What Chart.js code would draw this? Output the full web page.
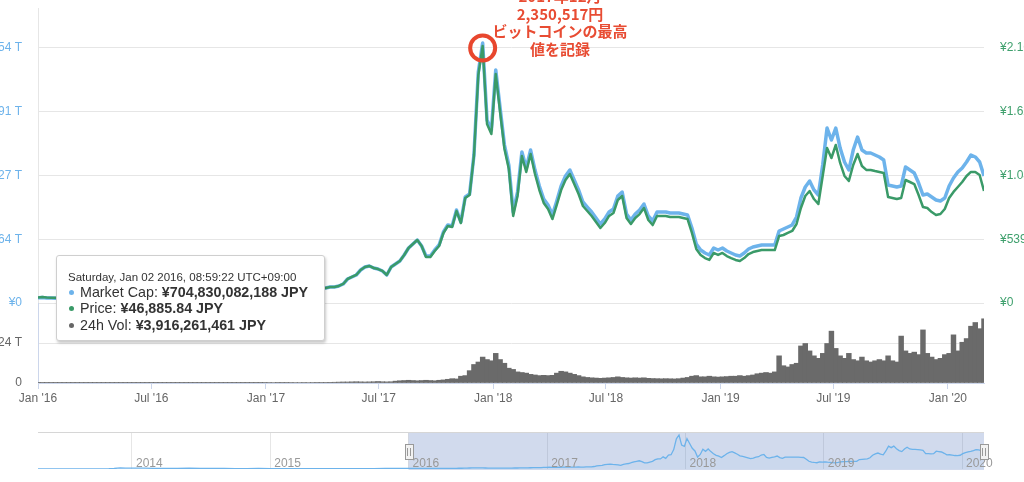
<!DOCTYPE html>
<html>
<head>
<meta charset="utf-8">
<script src="https://cdn.jsdelivr.net/npm/chart.js@4.4.1/dist/chart.umd.min.js"></script>
<style>
  html, body { margin: 0; padding: 0; background: #fff; overflow: hidden; }
  #wrap { position: relative; width: 1024px; height: 482px; overflow: hidden; font-family: "Liberation Sans", Arial, sans-serif; }
  canvas { position: absolute; left: 0; }
  #mainChart { top: 0; }
  #volChart { top: 293px; }
  #navChart { top: 422px; }
  #note { position: absolute; left: 460px; top: -13px; width: 200px; text-align: center;
          font-family: "Noto Sans CJK JP", sans-serif; font-weight: bold; font-size: 15px; line-height: 17.5px; color: #e84c33; }
  #tip { position: absolute; left: 56px; top: 255px; width: 267px; height: 84px; background: #fff;
         border: 1px solid #cfcfcf; border-radius: 3px; box-shadow: 1px 2px 3px rgba(0,0,0,0.22); color: #333; }
  .tt-title { position: absolute; left: 11px; top: 14px; font-size: 11.5px; line-height: 14px; white-space: nowrap; }
  .tt-rows { position: absolute; left: 12px; top: 28px; font-size: 14.3px; line-height: 16.4px; white-space: nowrap; }
  .dot { display: inline-block; width: 5px; height: 5px; border-radius: 50%; margin-right: 6px; position: relative; top: -2px; }
</style>
</head>
<body>
<div id="wrap">
  <canvas id="mainChart" width="1024" height="312"></canvas>
  <canvas id="volChart" width="1024" height="120"></canvas>
  <canvas id="navChart" width="1024" height="60"></canvas>
  <div id="note">2017年12月<br>2,350,517円<br>ビットコインの最高<br>値を記録</div>
  <div id="tip">
    <div class="tt-title">Saturday, Jan 02 2016, 08:59:22 UTC+09:00</div>
    <div class="tt-rows">
      <div><span class="dot" style="background:#6db3eb"></span>Market Cap: <b>¥704,830,082,188 JPY</b></div>
      <div><span class="dot" style="background:#3a9a68"></span>Price: <b>¥46,885.84 JPY</b></div>
      <div><span class="dot" style="background:#666"></span>24h Vol: <b>¥3,916,261,461 JPY</b></div>
    </div>
  </div>
</div>
<script>
// weekly samples starting 1 Jan 2016 (day 0)
const stepDays = 7;

// market cap, trillion JPY
const capT = [
  0.71, 0.75, 0.69, 0.68, 0.66, 0.63, 0.68, 0.71, 0.71, 0.69, 0.69, 0.69, 0.72, 0.72, 0.72, 0.74, 0.75, 0.75, 0.75, 0.76,
  0.77, 0.89, 0.94, 1.06, 1.13, 1.18, 1.10, 1.10, 1.09, 1.06, 0.95, 0.95, 0.94, 0.95, 0.94, 0.97, 0.99, 0.99, 0.97, 0.99,
  1.02, 1.05, 1.12, 1.17, 1.20, 1.22, 1.28, 1.33, 1.38, 1.41, 1.45, 1.61, 1.77,
  1.86, 1.65, 1.72, 1.77, 1.81, 1.88, 1.98, 2.07, 1.91, 1.94, 2.01, 2.07, 2.04,
  2.03, 2.17, 2.17, 2.30, 2.57, 3.25, 3.52, 3.79, 4.47, 4.88,
  5.01, 4.74, 4.61, 4.33, 3.79, 4.88, 5.28, 5.69, 6.50, 7.45,
  7.99, 8.53, 7.72, 6.37, 6.37, 7.18, 7.86, 9.62, 10.57, 10.43,
  12.60, 10.97, 14.36, 14.76, 20.05, 31.29, 35.22, 24.79, 23.43, 31.56,
  26.41, 21.40, 18.69, 12.33, 15.03, 20.45, 18.29, 20.72, 18.01, 15.85,
  14.09, 13.27, 11.92, 13.82, 15.85, 17.20, 18.01, 16.66, 15.31, 13.68,
  13.00, 12.33, 11.51, 10.70, 11.38, 12.33, 12.73, 14.49, 15.03, 12.06,
  11.24, 12.06, 12.60, 13.41, 11.78, 11.11, 12.33, 12.33, 12.33, 12.19,
  12.19, 12.19, 12.06, 11.92, 10.16, 7.99, 7.18, 6.77, 6.50, 7.45,
  7.18, 7.45, 7.04, 6.77, 6.50, 6.37, 6.77, 7.31, 7.59, 7.72,
  7.86, 7.86, 7.86, 7.86, 9.75, 10.02, 10.29, 10.57, 11.65, 14.22,
  15.71, 16.52, 15.31, 14.63, 18.69, 23.70, 22.08, 23.70, 20.99, 19.10,
  18.01, 20.72, 22.48, 20.72, 20.32, 20.32, 20.05, 19.78, 19.37, 15.98,
  15.85, 15.71, 15.85, 18.42, 18.01, 17.61, 16.25, 14.63, 14.76, 14.36,
  13.95, 13.82, 14.22, 15.85, 16.93, 17.74, 18.29, 19.10, 20.05, 19.78,
  19.10, 17.20
];

// price, thousand JPY
const priceK = [
  47, 50, 46, 45, 44, 42, 45, 47, 47, 46, 46, 46, 47, 47, 47, 48, 49, 49, 49, 49,
  50, 57, 60, 68, 72, 75, 70, 70, 69, 67, 60, 60, 59, 60, 59, 61, 62, 62, 61, 62,
  64, 66, 70, 73, 75, 76, 80, 83, 86, 88, 90, 100, 110,
  115, 102, 106, 109, 112, 116, 122, 128, 118, 120, 124, 128, 126,
  127, 135, 135, 144, 161, 203, 220, 237, 279, 304,
  313, 296, 287, 271, 237, 304, 330, 355, 406, 465,
  499, 533, 482, 389, 389, 440, 482, 592, 651, 643,
  778, 676, 888, 913, 1243, 1928, 2173, 1513, 1429, 1936,
  1615, 1302, 1133, 736, 905, 1243, 1108, 1260, 1091, 955,
  846, 795, 710, 829, 955, 1040, 1091, 1006, 922, 820,
  778, 736, 685, 634, 676, 736, 761, 871, 905, 719,
  668, 719, 752, 803, 702, 659, 736, 736, 736, 727,
  727, 727, 719, 710, 592, 457, 406, 380, 364, 423,
  406, 423, 397, 380, 364, 355, 380, 414, 431, 440,
  448, 448, 448, 448, 566, 575, 592, 609, 668, 803,
  905, 947, 879, 837, 1074, 1311, 1226, 1336, 1184, 1074,
  1032, 1167, 1260, 1158, 1125, 1125, 1116, 1108, 1099, 896,
  888, 879, 888, 1040, 1023, 1006, 913, 812, 803, 769,
  744, 752, 795, 888, 939, 981, 1023, 1074, 1108, 1108,
  1082, 947
];

// 24h volume, trillion JPY
const volT = [
  0.004, 0.005, 0.005, 0.004, 0.004, 0.005, 0.005, 0.006, 0.005, 0.005,
  0.005, 0.005, 0.005, 0.005, 0.004, 0.005, 0.005, 0.006, 0.006, 0.007,
  0.007, 0.010, 0.012, 0.015, 0.018, 0.020, 0.015, 0.012, 0.010, 0.010,
  0.012, 0.010, 0.009, 0.009, 0.008, 0.008, 0.009, 0.008, 0.008, 0.009,
  0.010, 0.012, 0.012, 0.014, 0.013, 0.012, 0.014, 0.015, 0.016, 0.018,
  0.020, 0.025, 0.030,
  0.035, 0.040, 0.030, 0.030, 0.030, 0.035, 0.040, 0.040, 0.035, 0.040, 0.045, 0.050, 0.050, 0.050, 0.055, 0.060, 0.070, 0.080,
  0.08, 0.09, 0.10, 0.09, 0.08, 0.09, 0.10, 0.12, 0.10, 0.09, 0.10,
  0.15, 0.18, 0.20, 0.22, 0.20, 0.18, 0.20, 0.22, 0.20, 0.18, 0.22, 0.25,
  0.30, 0.35, 0.33,
  0.55, 0.6, 1.0, 1.5, 1.7, 2.1, 1.9, 1.8, 2.4, 1.9,
  1.6, 1.2, 1.1, 0.9, 0.85, 0.8, 0.7, 0.65, 0.6, 0.62,
  0.6, 0.62, 0.8, 0.95, 0.9, 0.8, 0.7, 0.6, 0.5, 0.45,
  0.42, 0.4, 0.38, 0.4, 0.42, 0.45, 0.5, 0.45, 0.42, 0.4,
  0.42, 0.4, 0.42, 0.38, 0.36, 0.35, 0.34, 0.35, 0.34, 0.33,
  0.35, 0.4, 0.45, 0.55, 0.6, 0.5, 0.5, 0.55, 0.5, 0.48,
  0.5, 0.52, 0.55, 0.55, 0.6, 0.55, 0.6, 0.65, 0.75, 0.8,
  0.85, 0.8, 0.9, 2.2, 1.4, 1.3, 1.5, 1.6, 3.0, 3.2,
  2.6, 2.2, 2.0, 2.4, 3.2, 4.2, 2.8, 2.2, 2.0, 2.4,
  1.9, 1.8, 2.1, 1.8, 1.7, 1.8, 1.9, 1.8, 2.2, 1.8,
  1.7, 3.8, 2.6, 2.4, 2.5, 2.3, 4.3, 2.4, 2.1, 1.9,
  2.0, 2.3, 2.4, 3.9, 2.6, 3.3, 3.6, 4.6, 4.9, 4.4,
  5.2
];

// navigator history before 2016 (days relative to 1 Jan 2016, market cap trillion JPY)
const navEarlyDays = [-978, -975, -944, -914, -883, -852, -822, -791, -777, -761,
  -747, -730, -699, -671, -640, -610, -579, -549, -518, -487,
  -457, -426, -396, -365, -334, -306, -275, -245, -214, -184,
  -153, -122, -92, -61, -31];
const navEarlyCaps = [0.15, 0.13, 0.12, 0.10, 0.13, 0.14, 0.17, 0.25, 0.50, 1.25,
  0.90, 0.90, 0.95, 0.65, 0.55, 0.50, 0.80, 0.75, 0.70, 0.55,
  0.45, 0.45, 0.50, 0.45, 0.40, 0.40, 0.37, 0.35, 0.35, 0.40,
  0.42, 0.40, 0.40, 0.55, 0.65];

// axis ticks
const tickDays = [0, 182, 366, 547, 731, 912, 1096, 1277, 1461];
const tickLabels = ["Jan '16", "Jul '16", "Jan '17", "Jul '17", "Jan '18", "Jul '18", "Jan '19", "Jul '19", "Jan '20"];
const capTicks = [0, 8.635, 17.27, 25.905, 34.54];
const capTickLabels = ['¥0', '¥8.64 T', '¥17.27 T', '¥25.91 T', '¥34.54 T'];
const priceTicks = [0, 539, 1078, 1617, 2156];
const priceTickLabels = ['¥0', '¥539K', '¥1.08M', '¥1.62M', '¥2.16M'];
const volTicks = [0, 3.24];
const volTickLabels = ['0', '¥3.24 T'];
const yearDays = [-730, -365, 0, 366, 731, 1096, 1461];
const yearLabels = ['2014', '2015', '2016', '2017', '2018', '2019', '2020'];

const capColor = '#6db3eb';
const priceColor = '#3a9a68';
const clear = 'rgba(0,0,0,0)';
const lastDay = (capT.length - 1) * stepDays;
const toPoints = vals => vals.map((v, i) => ({ x: i * stepDays, y: v }));
const setTicks = list => scale => { scale.ticks = list.map(v => ({ value: v })); };

Chart.defaults.font.family = '"Liberation Sans", Arial, sans-serif';
Chart.defaults.font.size = 12;

// red ring round the all-time high
const peakCircle = {
  id: 'peakCircle',
  afterDatasetsDraw(chart) {
    const i = capT.indexOf(Math.max(...capT));
    const x = chart.scales.x.getPixelForValue(i * stepDays);
    const y = chart.scales.yCap.getPixelForValue(capT[i]);
    const ctx = chart.ctx;
    ctx.save();
    ctx.beginPath();
    ctx.arc(x, y + 5, 12.5, 0, Math.PI * 2);
    ctx.lineWidth = 4;
    ctx.strokeStyle = '#e8472e';
    ctx.stroke();
    ctx.restore();
  }
};

new Chart(document.getElementById('mainChart'), {
  type: 'line',
  data: {
    datasets: [
      { label: 'Price', data: toPoints(priceK), yAxisID: 'yPrice', borderColor: priceColor,
        borderWidth: 2.5, pointRadius: 0, tension: 0, borderJoinStyle: 'round', order: 0 },
      { label: 'Market Cap', data: toPoints(capT), yAxisID: 'yCap', borderColor: capColor,
        borderWidth: 3.5, pointRadius: 0, tension: 0, borderJoinStyle: 'round', order: 1 }
    ]
  },
  options: {
    responsive: false,
    animation: false,
    layout: { padding: { top: 8, bottom: 9, left: 0, right: 0 } },
    plugins: { legend: { display: false }, tooltip: { enabled: false } },
    scales: {
      x: { type: 'linear', min: 0, max: lastDay, display: false },
      yCap: {
        position: 'left',
        min: 0,
        max: capTicks[4] * 295 / 255,
        afterBuildTicks: setTicks(capTicks),
        afterFit: s => { s.width = 38; },
        ticks: { color: capColor, padding: 0, autoSkip: false, callback: (v, i) => capTickLabels[i] },
        grid: { color: '#e6e6e6', drawTicks: true, tickLength: 16, tickColor: clear },
        border: { display: true, color: '#e6e6e6' }
      },
      yPrice: {
        position: 'right',
        min: 0,
        max: priceTicks[4] * 295 / 255,
        afterBuildTicks: setTicks(priceTicks),
        afterFit: s => { s.width = 40; },
        ticks: { color: '#3fa06d', padding: 0, autoSkip: false, callback: (v, i) => priceTickLabels[i] },
        grid: { display: true, drawOnChartArea: false, drawTicks: true, tickLength: 16, tickColor: clear },
        border: { display: false }
      }
    }
  },
  plugins: [peakCircle]
});

new Chart(document.getElementById('volChart'), {
  type: 'bar',
  data: {
    datasets: [{ label: '24h Vol', data: toPoints(volT), yAxisID: 'yVol', backgroundColor: '#6a6a6a',
      borderWidth: 0, barThickness: 4.8 }]
  },
  options: {
    responsive: false,
    animation: false,
    layout: { padding: { top: 10, right: 40, left: 0, bottom: 0 } },
    plugins: { legend: { display: false }, tooltip: { enabled: false } },
    scales: {
      x: {
        type: 'linear', min: 0, max: lastDay, offset: false,
        afterBuildTicks: setTicks(tickDays),
        afterFit: s => { s.height = 30; },
        ticks: { color: '#666', padding: 2, maxRotation: 0, autoSkip: false, callback: (v, i) => tickLabels[i] },
        grid: { drawOnChartArea: false, drawTicks: true, tickLength: 6, color: '#ccd6eb', offset: false },
        border: { display: true, color: '#ccd6eb' }
      },
      yVol: {
        position: 'left', min: 0, max: 6.48,
        afterBuildTicks: setTicks(volTicks),
        afterFit: s => { s.width = 38; },
        ticks: { color: '#666', padding: 0, autoSkip: false, callback: (v, i) => volTickLabels[i] },
        grid: { color: '#e6e6e6', drawTicks: true, tickLength: 16, tickColor: clear },
        border: { display: true, color: '#ccd6eb' }
      }
    }
  }
});

// navigator: selected range mask, outline, handles and year labels
const navMask = {
  id: 'navMask',
  beforeDatasetsDraw(chart) {
    const { ctx, chartArea, scales } = chart;
    const x0 = scales.x.getPixelForValue(0);
    const x1 = scales.x.getPixelForValue(lastDay);
    ctx.save();
    ctx.fillStyle = 'rgba(102,133,194,0.3)';
    ctx.fillRect(x0, chartArea.top, x1 - x0, chartArea.bottom - chartArea.top + 1);
    ctx.restore();
  },
  afterDraw(chart) {
    const { ctx, chartArea, scales } = chart;
    ctx.save();
    ctx.fillStyle = '#999';
    ctx.font = '12px "Liberation Sans", Arial, sans-serif';
    ctx.textBaseline = 'middle';
    ctx.textAlign = 'left';
    yearDays.forEach((d, i) => {
      ctx.fillText(yearLabels[i], scales.x.getPixelForValue(d) + 4, chartArea.bottom - 5);
    });
    ctx.strokeStyle = '#d6d6d6';
    ctx.lineWidth = 1;
    ctx.beginPath();
    ctx.moveTo(chartArea.left, chartArea.top + 0.5);
    ctx.lineTo(chartArea.right, chartArea.top + 0.5);
    ctx.stroke();
    const mid = Math.round((chartArea.top + chartArea.bottom) / 2);
    [0, lastDay].forEach(d => {
      const x = Math.round(scales.x.getPixelForValue(d));
      ctx.fillStyle = '#f2f2f2';
      ctx.strokeStyle = '#999';
      ctx.fillRect(x - 4, mid - 7, 8, 15);
      ctx.strokeRect(x - 3.5, mid - 6.5, 8, 15);
      ctx.beginPath();
      ctx.moveTo(x - 1.5, mid - 3); ctx.lineTo(x - 1.5, mid + 5);
      ctx.moveTo(x + 1.5, mid - 3); ctx.lineTo(x + 1.5, mid + 5);
      ctx.stroke();
    });
    ctx.restore();
  }
};

const navPoints = navEarlyDays.map((d, i) => ({ x: d, y: navEarlyCaps[i] })).concat(toPoints(capT));

new Chart(document.getElementById('navChart'), {
  type: 'line',
  data: {
    datasets: [{ label: 'Navigator', data: navPoints, borderColor: capColor, borderWidth: 1.3,
      backgroundColor: 'rgba(109,179,235,0.06)', fill: 'origin', pointRadius: 0, tension: 0 }]
  },
  options: {
    responsive: false,
    animation: false,
    layout: { padding: { top: 10, left: 38, right: 40, bottom: 0 } },
    plugins: { legend: { display: false }, tooltip: { enabled: false } },
    scales: {
      x: {
        type: 'linear', min: navEarlyDays[0], max: lastDay,
        afterBuildTicks: setTicks(yearDays),
        afterFit: s => { s.height = 13; },
        ticks: { display: false },
        grid: { color: '#e6e6e6', drawTicks: false },
        border: { display: false }
      },
      y: { display: false, min: 0, max: 38.3 }
    }
  },
  plugins: [navMask]
});
</script>
</body>
</html>
